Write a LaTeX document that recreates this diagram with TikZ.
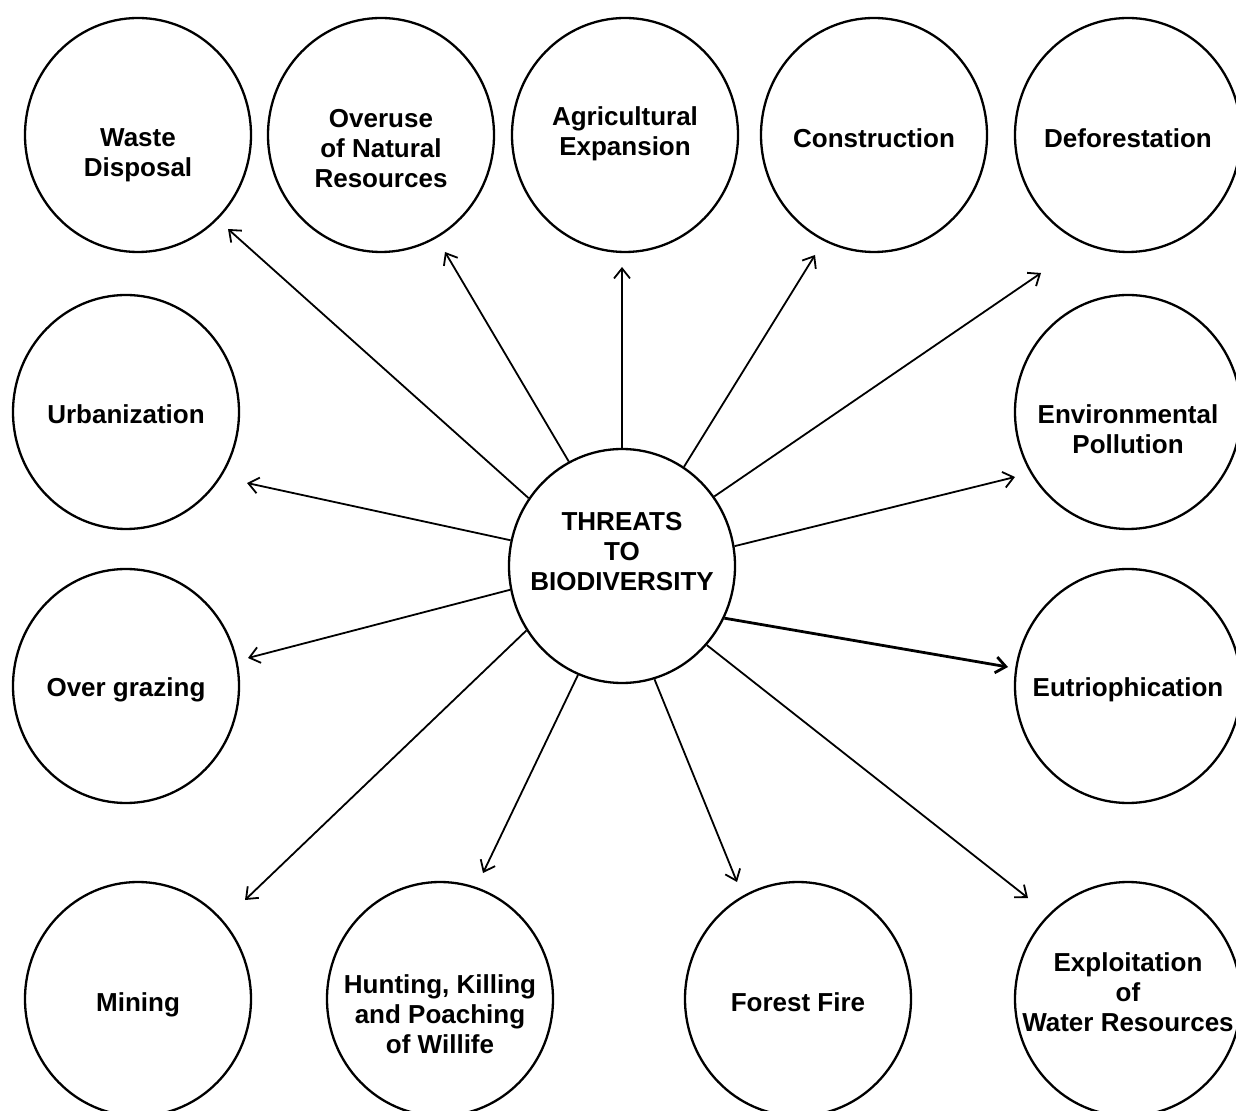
\documentclass[tikz,border=0pt]{standalone}
\usepackage{fontspec}
\setmainfont{Liberation Sans}
\usetikzlibrary{shapes.geometric,arrows.meta}

\begin{document}
\begin{tikzpicture}[x=0.5pt,y=-0.5pt,
  threat/.style={draw,ellipse,line width=1.15pt,minimum width=113pt,minimum height=117pt,inner sep=0pt},
  txt/.style={align=center,font=\fontsize{13}{15}\selectfont\bfseries,inner sep=0pt},
  >={Straight Barb[length=5pt,width=8pt]}]
\useasboundingbox (0,0) rectangle (1236,1111);
\node[threat] (main) at (622,566) {};
\node[txt] (main-t) at (622,552) {THREATS\\TO\\BIODIVERSITY};
\node[threat] (waste) at (138,135) {};
\node[txt] (waste-t) at (138,155) {Waste\\Disposal};
\node[threat] (overuse) at (381,135) {};
\node[txt] (overuse-t) at (381,149) {Overuse\\of Natural\\Resources};
\node[threat] (agri) at (625,135) {};
\node[txt] (agri-t) at (625,134) {Agricultural\\Expansion};
\node[threat] (constr) at (874,135) {};
\node[txt] (constr-t) at (874,138) {Construction};
\node[threat] (defor) at (1128,135) {};
\node[txt] (defor-t) at (1128,138) {Deforestation};
\node[threat] (urban) at (126,412) {};
\node[txt] (urban-t) at (126,414) {Urbanization};
\node[threat] (grazing) at (126,686) {};
\node[txt] (grazing-t) at (126,690) {Over grazing};
\node[threat] (envpol) at (1128,412) {};
\node[txt] (envpol-t) at (1128,429) {Environmental\\Pollution};
\node[threat] (eutro) at (1128,686) {};
\node[txt] (eutro-t) at (1128,690) {Eutriophication};
\node[threat] (mining) at (138,999) {};
\node[txt] (mining-t) at (138,1005) {Mining};
\node[threat] (hunting) at (440,999) {};
\node[txt] (hunting-t) at (440,1014) {Hunting, Killing\\and Poaching\\of Willife};
\node[threat] (fire) at (798,999) {};
\node[txt] (fire-t) at (798,1002) {Forest Fire};
\node[threat] (water) at (1128,999) {};
\node[txt] (water-t) at (1128,992) {Exploitation\\of\\Water Resources};
\coordinate (waste-a) at (228,229);
\coordinate (overuse-a) at (445,252);
\coordinate (agri-a) at (622,267);
\coordinate (constr-a) at (815,255);
\coordinate (defor-a) at (1041,273);
\coordinate (urban-a) at (247,483);
\coordinate (grazing-a) at (248,658);
\coordinate (envpol-a) at (1015,477);
\coordinate (eutro-a) at (1008,667);
\coordinate (mining-a) at (245,900);
\coordinate (hunting-a) at (483,873);
\coordinate (fire-a) at (737,882);
\coordinate (water-a) at (1028,898);
\draw[->,line width=0.9pt] (main.144) -- (waste-a);
\draw[->,line width=0.9pt] (main.117) -- (overuse-a);
\draw[->,line width=0.9pt] (main.90) -- (agri-a);
\draw[->,line width=0.9pt] (main.58) -- (constr-a);
\draw[->,line width=0.9pt] (main.37) -- (defor-a);
\draw[->,line width=0.9pt] (main.167) -- (urban-a);
\draw[->,line width=0.9pt] (main.192) -- (grazing-a);
\draw[->,line width=0.9pt] (main.10) -- (envpol-a);
\draw[->,line width=1.4pt] (main.333) -- (eutro-a);
\draw[->,line width=0.9pt] (main.214) -- (mining-a);
\draw[->,line width=0.9pt] (main.248) -- (hunting-a);
\draw[->,line width=0.9pt] (main.286) -- (fire-a);
\draw[->,line width=0.9pt] (main.317) -- (water-a);
\end{tikzpicture}
\end{document}
